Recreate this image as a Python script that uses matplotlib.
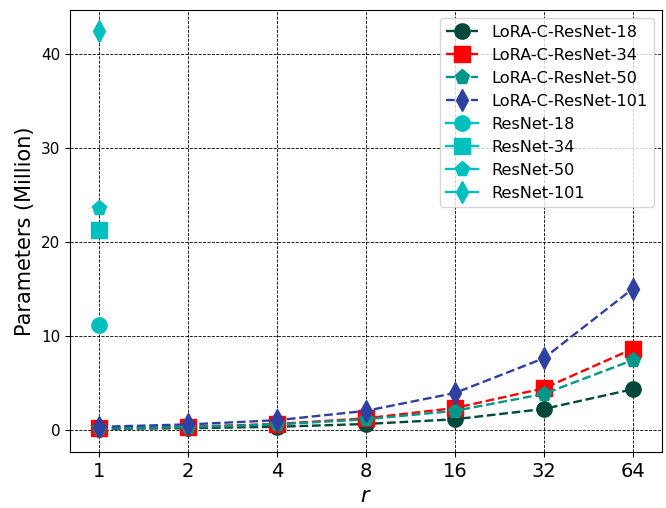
import matplotlib

matplotlib.use("Agg")
import matplotlib.pyplot as plt

r_labels = ["1", "2", "4", "8", "16", "32", "64"]

lora_r18 = [0.08, 0.15, 0.3, 0.6, 1.1, 2.2, 4.3]
lora_r34 = [0.15, 0.3, 0.6, 1.2, 2.3, 4.4, 8.6]
lora_r50 = [0.14, 0.28, 0.55, 1.1, 2.0, 3.8, 7.4]
lora_r101 = [0.3, 0.55, 1.0, 2.0, 3.9, 7.6, 15.0]

resnet_params = [11.2, 21.3, 23.6, 42.5]
resnet_names = ["ResNet-18", "ResNet-34", "ResNet-50", "ResNet-101"]

lora_series = [
    ("LoRA-C-ResNet-18", lora_r18, "#00493a", "o"),
    ("LoRA-C-ResNet-34", lora_r34, "#ff0000", "s"),
    ("LoRA-C-ResNet-50", lora_r50, "#00968a", "p"),
    ("LoRA-C-ResNet-101", lora_r101, "#3040a0", "d"),
]
resnet_markers = ["o", "s", "p", "d"]

fig, ax = plt.subplots(figsize=(6.66, 5.08), dpi=100)
fig.subplots_adjust(left=0.105, right=0.994, top=0.98, bottom=0.11)
x = list(range(len(r_labels)))

for name, vals, color, marker in lora_series:
    ax.plot(x, vals, linestyle="--", color=color, marker=marker,
            markersize=11, linewidth=1.7, label=name)

for name, val, marker in zip(resnet_names, resnet_params, resnet_markers):
    ax.plot([0], [val], linestyle="-", color="c", marker=marker,
            markersize=11, linewidth=1.7, label=name)

ax.set_xticks(x)
ax.set_xticklabels(r_labels, fontsize=14)
ax.tick_params(axis="y", labelsize=11)
ax.set_xlabel(r"$r$", fontsize=15)
ax.set_ylabel("Parameters (Million)", fontsize=15)
ax.set_xlim(-0.33, 6.33)
ax.set_ylim(-2.4, 44.7)
ax.grid(True, color="black", linestyle="--", linewidth=0.6)
ax.legend(loc="upper right", fontsize=11.6)

fig.savefig("out.png", dpi=100)
